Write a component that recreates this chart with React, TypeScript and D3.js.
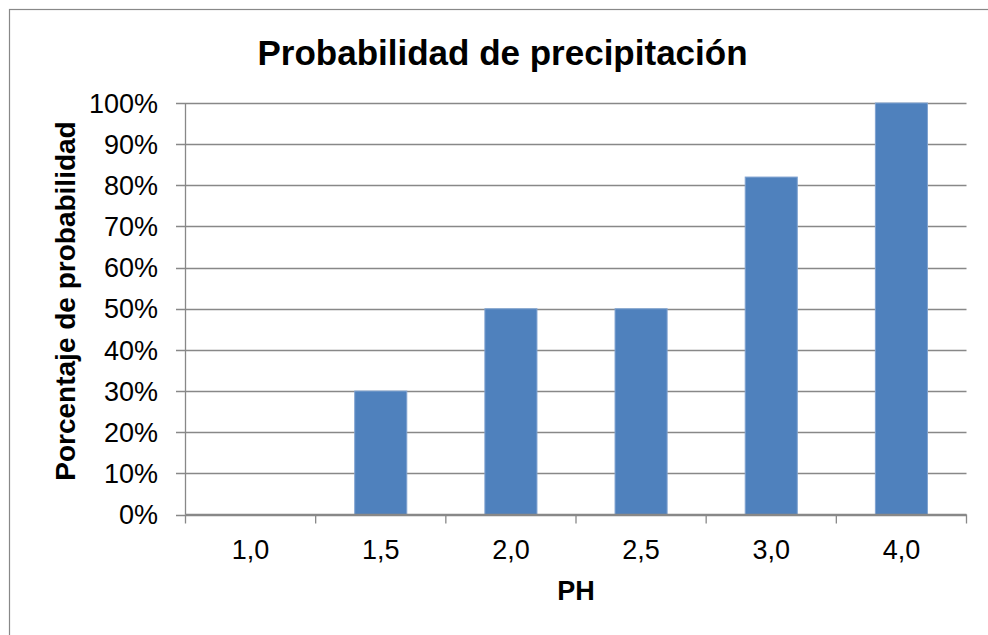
import React from "react";
import * as d3 from "d3";

const categories = ["1,0", "1,5", "2,0", "2,5", "3,0", "4,0"];
const values = [0, 30, 50, 50, 82, 100];
const yTicks = [0, 10, 20, 30, 40, 50, 60, 70, 80, 90, 100];
const title = "Probabilidad de precipitación";
const yTitle = "Porcentaje de probabilidad";
const xTitle = "PH";

const W = 988;
const H = 635;
const left = 185.5;
const right = 966.5;
const top = 103;
const bottom = 514.5;
const FONT = "'Liberation Sans', Arial, sans-serif";

export default function App() {
  const x = d3.scaleBand<string>().domain(categories).range([left, right]).padding(0);
  const y = d3.scaleLinear().domain([0, 100]).range([bottom, top]);
  const bw = x.bandwidth() * 0.4;
  const boundaries = d3.range(categories.length + 1).map((i) => left + i * x.step());
  const grid = "#888888";

  return (
    <svg
      width={W}
      height={H}
      style={{ position: "absolute", left: 0, top: 0, background: "#fff" }}
      fontFamily={FONT}
    >
      <rect x={9.5} y={9.5} width={990} height={640} fill="#fff" stroke={grid} strokeWidth={1.2} />
      <text x={502.5} y={65} textAnchor="middle" fontSize={35} fontWeight="bold" fill="#000">
        {title}
      </text>
      {yTicks.map((t) => (
        <g key={t}>
          <line x1={176} x2={right} y1={Math.round(y(t)) + 0.5} y2={Math.round(y(t)) + 0.5} stroke={grid} strokeWidth={1.3} />
          <text x={158} y={y(t)} dy="0.36em" textAnchor="end" fontSize={27} fill="#000">
            {t}%
          </text>
        </g>
      ))}
      {categories.map((c, i) => (
        <rect
          key={c}
          x={(x(c) as number) + (x.bandwidth() - bw) / 2}
          y={y(values[i])}
          width={bw}
          height={bottom - y(values[i])}
          fill="#4f81bd"
          stroke="#7fa2d0"
          strokeWidth={1}
        />
      ))}
      <line x1={left} x2={left} y1={top} y2={bottom} stroke={grid} strokeWidth={1.3} />
      <line x1={left} x2={right} y1={bottom} y2={bottom} stroke={grid} strokeWidth={1.3} />
      {boundaries.map((bx, i) => (
        <line key={i} x1={bx} x2={bx} y1={bottom} y2={bottom + 9} stroke={grid} strokeWidth={1.3} />
      ))}
      {categories.map((c) => (
        <text key={c} x={(x(c) as number) + x.bandwidth() / 2} y={559} textAnchor="middle" fontSize={27} fill="#000">
          {c}
        </text>
      ))}
      <text x={576} y={600} textAnchor="middle" fontSize={27} fontWeight="bold" fill="#000">
        {xTitle}
      </text>
      <text
        transform={`translate(75, 301) rotate(-90)`}
        textAnchor="middle"
        fontSize={28}
        fontWeight="bold"
        fill="#000"
      >
        {yTitle}
      </text>
    </svg>
  );
}
